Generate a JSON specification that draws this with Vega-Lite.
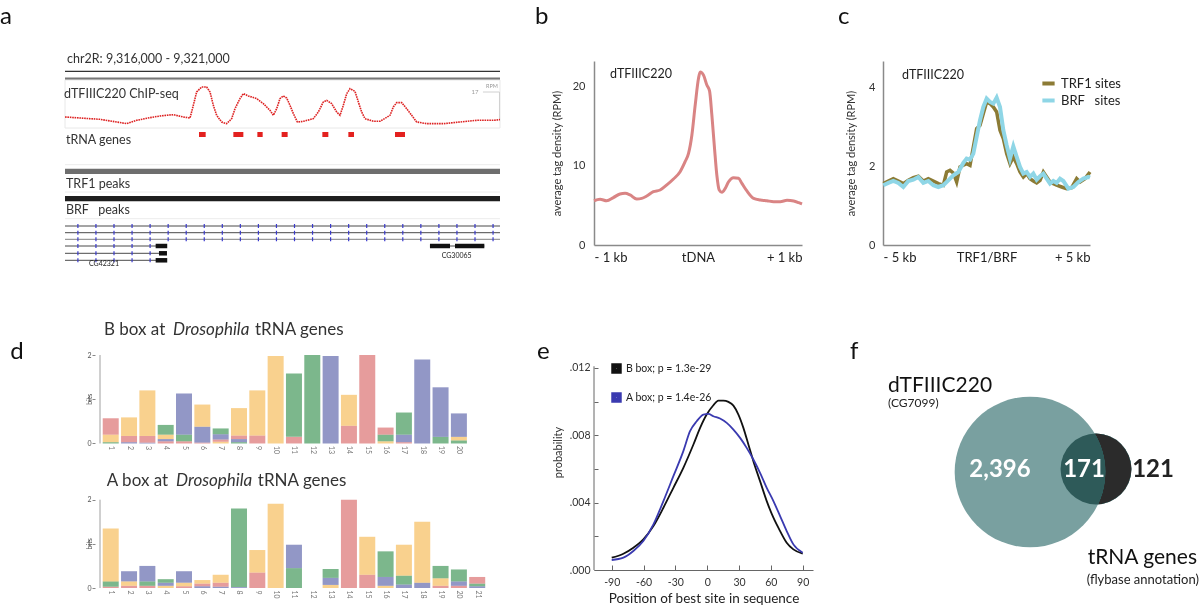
{
"$schema": "https://vega.github.io/schema/vega-lite/v6.json",
"background": "white",
"padding": {"top": 5, "left": 0, "right": 0, "bottom": 0},
"autosize": {"type": "pad"},
"config": {"font": "Lato", "view": {"stroke": null}, "axis": {"grid": false}},
"columns": 3,
"spacing": {"row": 110, "column": 70},
"bounds": "flush",
"align": "each",
"resolve": {"scale": {"color": "independent"}, "legend": {"color": "independent"}},
"datasets": {
"a_profile": [
{"bp":9316000,"rpm":5.19},{"bp":9316172,"rpm":4.72},{"bp":9316402,"rpm":4.09},{"bp":9316594,"rpm":2.83},{"bp":9316709,"rpm":2.05},{"bp":9316824,"rpm":3.62},{"bp":9316977,"rpm":4.88},{"bp":9317092,"rpm":5.67},{"bp":9317245,"rpm":6.29},{"bp":9317360,"rpm":5.19},{"bp":9317437,"rpm":4.72},{"bp":9317475,"rpm":10.7},{"bp":9317513,"rpm":17.0},{"bp":9317571,"rpm":19.36},{"bp":9317628,"rpm":19.36},{"bp":9317667,"rpm":17.0},{"bp":9317705,"rpm":10.7},{"bp":9317743,"rpm":5.98},{"bp":9317801,"rpm":2.83},{"bp":9317858,"rpm":2.05},{"bp":9317916,"rpm":4.41},{"bp":9317954,"rpm":9.13},{"bp":9318011,"rpm":13.85},{"bp":9318050,"rpm":16.21},{"bp":9318107,"rpm":15.11},{"bp":9318203,"rpm":13.85},{"bp":9318280,"rpm":11.49},{"bp":9318356,"rpm":8.34},{"bp":9318395,"rpm":5.98},{"bp":9318433,"rpm":9.13},{"bp":9318471,"rpm":13.85},{"bp":9318510,"rpm":15.11},{"bp":9318548,"rpm":14.16},{"bp":9318586,"rpm":10.7},{"bp":9318625,"rpm":6.77},{"bp":9318671,"rpm":2.83},{"bp":9318740,"rpm":3.15},{"bp":9318854,"rpm":4.41},{"bp":9318912,"rpm":7.55},{"bp":9318969,"rpm":12.27},{"bp":9319008,"rpm":13.06},{"bp":9319065,"rpm":11.49},{"bp":9319123,"rpm":7.55},{"bp":9319161,"rpm":5.98},{"bp":9319199,"rpm":10.7},{"bp":9319238,"rpm":16.21},{"bp":9319276,"rpm":18.57},{"bp":9319333,"rpm":17.31},{"bp":9319372,"rpm":12.27},{"bp":9319410,"rpm":7.55},{"bp":9319448,"rpm":4.41},{"bp":9319544,"rpm":3.15},{"bp":9319621,"rpm":3.15},{"bp":9319736,"rpm":5.98},{"bp":9319774,"rpm":9.92},{"bp":9319812,"rpm":11.96},{"bp":9319870,"rpm":11.96},{"bp":9319927,"rpm":9.13},{"bp":9319985,"rpm":5.98},{"bp":9320042,"rpm":2.83},{"bp":9320157,"rpm":2.05},{"bp":9320349,"rpm":2.05},{"bp":9320540,"rpm":2.83},{"bp":9320732,"rpm":3.62},{"bp":9320923,"rpm":3.62},{"bp":9321000,"rpm":3.93}
],
"a_trna": [
{"start":9317540,"end":9317617},{"start":9317935,"end":9318050},{"start":9318211,"end":9318272},{"start":9318490,"end":9318559},{"start":9318958,"end":9319027},{"start":9319257,"end":9319322},{"start":9319793,"end":9319908}
],
"b_profile": [
{"pos":-1000,"rpm":5.6},{"pos":-942,"rpm":5.8},{"pos":-878,"rpm":5.6},{"pos":-814,"rpm":6.0},{"pos":-750,"rpm":6.46},{"pos":-701,"rpm":6.54},{"pos":-653,"rpm":6.33},{"pos":-589,"rpm":5.82},{"pos":-541,"rpm":5.9},{"pos":-493,"rpm":6.2},{"pos":-429,"rpm":6.75},{"pos":-364,"rpm":6.96},{"pos":-300,"rpm":7.6},{"pos":-236,"rpm":8.35},{"pos":-172,"rpm":9.28},{"pos":-124,"rpm":10.55},{"pos":-91,"rpm":11.6},{"pos":-59,"rpm":13.9},{"pos":-27,"rpm":17.7},{"pos":5,"rpm":21.1},{"pos":21,"rpm":21.9},{"pos":53,"rpm":21.5},{"pos":85,"rpm":20.25},{"pos":111,"rpm":19.5},{"pos":133,"rpm":16.5},{"pos":159,"rpm":12.2},{"pos":181,"rpm":8.86},{"pos":204,"rpm":6.96},{"pos":230,"rpm":6.67},{"pos":262,"rpm":7.17},{"pos":294,"rpm":8.0},{"pos":342,"rpm":8.52},{"pos":390,"rpm":8.44},{"pos":422,"rpm":7.8},{"pos":470,"rpm":6.84},{"pos":535,"rpm":5.9},{"pos":599,"rpm":5.7},{"pos":663,"rpm":5.6},{"pos":727,"rpm":5.49},{"pos":791,"rpm":5.49},{"pos":856,"rpm":5.65},{"pos":920,"rpm":5.57},{"pos":968,"rpm":5.36},{"pos":1000,"rpm":5.19}
],
"c_profile": [
{"series":"TRF1 sites","pos":-4984,"rpm":1.56},{"series":"TRF1 sites","pos":-4742,"rpm":1.628},{"series":"TRF1 sites","pos":-4501,"rpm":1.688},{"series":"TRF1 sites","pos":-4259,"rpm":1.628},{"series":"TRF1 sites","pos":-4018,"rpm":1.56},{"series":"TRF1 sites","pos":-3776,"rpm":1.645},{"series":"TRF1 sites","pos":-3535,"rpm":1.713},{"series":"TRF1 sites","pos":-3293,"rpm":1.747},{"series":"TRF1 sites","pos":-3052,"rpm":1.628},{"series":"TRF1 sites","pos":-2810,"rpm":1.688},{"series":"TRF1 sites","pos":-2569,"rpm":1.628},{"series":"TRF1 sites","pos":-2327,"rpm":1.56},{"series":"TRF1 sites","pos":-2085,"rpm":1.52},{"series":"TRF1 sites","pos":-1924,"rpm":1.857},{"series":"TRF1 sites","pos":-1763,"rpm":1.9},{"series":"TRF1 sites","pos":-1602,"rpm":1.832},{"series":"TRF1 sites","pos":-1441,"rpm":1.603},{"series":"TRF1 sites","pos":-1280,"rpm":1.985},{"series":"TRF1 sites","pos":-1119,"rpm":2.027},{"series":"TRF1 sites","pos":-958,"rpm":2.07},{"series":"TRF1 sites","pos":-797,"rpm":2.027},{"series":"TRF1 sites","pos":-636,"rpm":2.494},{"series":"TRF1 sites","pos":-475,"rpm":2.961},{"series":"TRF1 sites","pos":-314,"rpm":3.045},{"series":"TRF1 sites","pos":-153,"rpm":3.342},{"series":"TRF1 sites","pos":8,"rpm":3.639},{"series":"TRF1 sites","pos":168,"rpm":3.596},{"series":"TRF1 sites","pos":330,"rpm":3.511},{"series":"TRF1 sites","pos":491,"rpm":3.384},{"series":"TRF1 sites","pos":652,"rpm":2.918},{"series":"TRF1 sites","pos":813,"rpm":2.706},{"series":"TRF1 sites","pos":974,"rpm":2.324},{"series":"TRF1 sites","pos":1135,"rpm":2.07},{"series":"TRF1 sites","pos":1296,"rpm":2.239},{"series":"TRF1 sites","pos":1458,"rpm":2.07},{"series":"TRF1 sites","pos":1619,"rpm":1.857},{"series":"TRF1 sites","pos":1780,"rpm":1.73},{"series":"TRF1 sites","pos":1941,"rpm":1.815},{"series":"TRF1 sites","pos":2102,"rpm":1.688},{"series":"TRF1 sites","pos":2263,"rpm":1.628},{"series":"TRF1 sites","pos":2424,"rpm":1.578},{"series":"TRF1 sites","pos":2585,"rpm":1.645},{"series":"TRF1 sites","pos":2746,"rpm":1.857},{"series":"TRF1 sites","pos":2907,"rpm":1.73},{"series":"TRF1 sites","pos":3068,"rpm":1.603},{"series":"TRF1 sites","pos":3229,"rpm":1.56},{"series":"TRF1 sites","pos":3390,"rpm":1.52},{"series":"TRF1 sites","pos":3632,"rpm":1.475},{"series":"TRF1 sites","pos":3873,"rpm":1.433},{"series":"TRF1 sites","pos":4115,"rpm":1.458},{"series":"TRF1 sites","pos":4356,"rpm":1.688},{"series":"TRF1 sites","pos":4517,"rpm":1.603},{"series":"TRF1 sites","pos":4759,"rpm":1.688},{"series":"TRF1 sites","pos":5000,"rpm":1.857},
{"series":"BRF   sites","pos":-4984,"rpm":1.52},{"series":"BRF   sites","pos":-4742,"rpm":1.578},{"series":"BRF   sites","pos":-4501,"rpm":1.628},{"series":"BRF   sites","pos":-4259,"rpm":1.578},{"series":"BRF   sites","pos":-4018,"rpm":1.475},{"series":"BRF   sites","pos":-3776,"rpm":1.628},{"series":"BRF   sites","pos":-3535,"rpm":1.662},{"series":"BRF   sites","pos":-3293,"rpm":1.73},{"series":"BRF   sites","pos":-3052,"rpm":1.578},{"series":"BRF   sites","pos":-2810,"rpm":1.628},{"series":"BRF   sites","pos":-2569,"rpm":1.52},{"series":"BRF   sites","pos":-2327,"rpm":1.475},{"series":"BRF   sites","pos":-2085,"rpm":1.52},{"series":"BRF   sites","pos":-1844,"rpm":1.645},{"series":"BRF   sites","pos":-1602,"rpm":1.772},{"series":"BRF   sites","pos":-1361,"rpm":1.857},{"series":"BRF   sites","pos":-1119,"rpm":2.087},{"series":"BRF   sites","pos":-958,"rpm":2.197},{"series":"BRF   sites","pos":-797,"rpm":2.172},{"series":"BRF   sites","pos":-636,"rpm":2.324},{"series":"BRF   sites","pos":-475,"rpm":2.748},{"series":"BRF   sites","pos":-314,"rpm":3.172},{"series":"BRF   sites","pos":-153,"rpm":3.511},{"series":"BRF   sites","pos":8,"rpm":3.724},{"series":"BRF   sites","pos":168,"rpm":3.639},{"series":"BRF   sites","pos":330,"rpm":3.596},{"series":"BRF   sites","pos":491,"rpm":3.749},{"series":"BRF   sites","pos":652,"rpm":3.511},{"series":"BRF   sites","pos":813,"rpm":2.918},{"series":"BRF   sites","pos":974,"rpm":2.536},{"series":"BRF   sites","pos":1135,"rpm":2.197},{"series":"BRF   sites","pos":1296,"rpm":2.511},{"series":"BRF   sites","pos":1458,"rpm":2.239},{"series":"BRF   sites","pos":1619,"rpm":1.985},{"series":"BRF   sites","pos":1780,"rpm":1.815},{"series":"BRF   sites","pos":1941,"rpm":1.857},{"series":"BRF   sites","pos":2102,"rpm":1.73},{"series":"BRF   sites","pos":2263,"rpm":1.815},{"series":"BRF   sites","pos":2424,"rpm":1.662},{"series":"BRF   sites","pos":2585,"rpm":1.747},{"series":"BRF   sites","pos":2746,"rpm":1.815},{"series":"BRF   sites","pos":2907,"rpm":1.688},{"series":"BRF   sites","pos":3068,"rpm":1.56},{"series":"BRF   sites","pos":3229,"rpm":1.628},{"series":"BRF   sites","pos":3390,"rpm":1.578},{"series":"BRF   sites","pos":3551,"rpm":1.688},{"series":"BRF   sites","pos":3712,"rpm":1.628},{"series":"BRF   sites","pos":3954,"rpm":1.433},{"series":"BRF   sites","pos":4195,"rpm":1.475},{"series":"BRF   sites","pos":4437,"rpm":1.603},{"series":"BRF   sites","pos":4678,"rpm":1.688},{"series":"BRF   sites","pos":4920,"rpm":1.73},{"series":"BRF   sites","pos":5000,"rpm":1.713}
],
"logo": [
{"box":"B","pos":1,"nt":"T","bits":0.03},{"box":"B","pos":1,"nt":"G","bits":0.17},{"box":"B","pos":1,"nt":"A","bits":0.37},
{"box":"B","pos":2,"nt":"C","bits":0.03},{"box":"B","pos":2,"nt":"A","bits":0.14},{"box":"B","pos":2,"nt":"G","bits":0.42},
{"box":"B","pos":3,"nt":"C","bits":0.02},{"box":"B","pos":3,"nt":"A","bits":0.15},{"box":"B","pos":3,"nt":"G","bits":1.03},
{"box":"B","pos":4,"nt":"A","bits":0.05},{"box":"B","pos":4,"nt":"C","bits":0.05},{"box":"B","pos":4,"nt":"G","bits":0.1},{"box":"B","pos":4,"nt":"T","bits":0.22},
{"box":"B","pos":5,"nt":"A","bits":0.05},{"box":"B","pos":5,"nt":"T","bits":0.15},{"box":"B","pos":5,"nt":"C","bits":0.93},
{"box":"B","pos":6,"nt":"A","bits":0.02},{"box":"B","pos":6,"nt":"C","bits":0.36},{"box":"B","pos":6,"nt":"G","bits":0.5},
{"box":"B","pos":7,"nt":"G","bits":0.04},{"box":"B","pos":7,"nt":"A","bits":0.05},{"box":"B","pos":7,"nt":"C","bits":0.12},{"box":"B","pos":7,"nt":"T","bits":0.13},
{"box":"B","pos":8,"nt":"T","bits":0.03},{"box":"B","pos":8,"nt":"C","bits":0.07},{"box":"B","pos":8,"nt":"A","bits":0.08},{"box":"B","pos":8,"nt":"G","bits":0.62},
{"box":"B","pos":9,"nt":"A","bits":0.18},{"box":"B","pos":9,"nt":"G","bits":1.02},
{"box":"B","pos":10,"nt":"G","bits":1.98},
{"box":"B","pos":11,"nt":"A","bits":0.15},{"box":"B","pos":11,"nt":"T","bits":1.43},
{"box":"B","pos":12,"nt":"T","bits":2.0},
{"box":"B","pos":13,"nt":"C","bits":1.98},
{"box":"B","pos":14,"nt":"A","bits":0.4},{"box":"B","pos":14,"nt":"G","bits":0.7},
{"box":"B","pos":15,"nt":"A","bits":2.0},
{"box":"B","pos":16,"nt":"G","bits":0.05},{"box":"B","pos":16,"nt":"T","bits":0.15},{"box":"B","pos":16,"nt":"A","bits":0.16},
{"box":"B","pos":17,"nt":"A","bits":0.03},{"box":"B","pos":17,"nt":"C","bits":0.17},{"box":"B","pos":17,"nt":"T","bits":0.5},
{"box":"B","pos":18,"nt":"C","bits":1.9},
{"box":"B","pos":19,"nt":"T","bits":0.15},{"box":"B","pos":19,"nt":"C","bits":1.12},
{"box":"B","pos":20,"nt":"T","bits":0.07},{"box":"B","pos":20,"nt":"G","bits":0.08},{"box":"B","pos":20,"nt":"C","bits":0.53},
{"box":"A","pos":1,"nt":"A","bits":0.03},{"box":"A","pos":1,"nt":"T","bits":0.12},{"box":"A","pos":1,"nt":"G","bits":1.2},
{"box":"A","pos":2,"nt":"A","bits":0.05},{"box":"A","pos":2,"nt":"G","bits":0.1},{"box":"A","pos":2,"nt":"C","bits":0.23},
{"box":"A","pos":3,"nt":"A","bits":0.05},{"box":"A","pos":3,"nt":"T","bits":0.1},{"box":"A","pos":3,"nt":"C","bits":0.35},
{"box":"A","pos":4,"nt":"G","bits":0.05},{"box":"A","pos":4,"nt":"C","bits":0.07},{"box":"A","pos":4,"nt":"T","bits":0.08},
{"box":"A","pos":5,"nt":"A","bits":0.04},{"box":"A","pos":5,"nt":"G","bits":0.08},{"box":"A","pos":5,"nt":"C","bits":0.26},
{"box":"A","pos":6,"nt":"C","bits":0.04},{"box":"A","pos":6,"nt":"A","bits":0.06},{"box":"A","pos":6,"nt":"G","bits":0.08},
{"box":"A","pos":7,"nt":"C","bits":0.03},{"box":"A","pos":7,"nt":"A","bits":0.09},{"box":"A","pos":7,"nt":"G","bits":0.18},
{"box":"A","pos":8,"nt":"C","bits":0.02},{"box":"A","pos":8,"nt":"T","bits":1.78},
{"box":"A","pos":9,"nt":"A","bits":0.35},{"box":"A","pos":9,"nt":"G","bits":0.51},
{"box":"A","pos":10,"nt":"G","bits":1.91},
{"box":"A","pos":11,"nt":"T","bits":0.45},{"box":"A","pos":11,"nt":"C","bits":0.53},
{"box":"A","pos":13,"nt":"G","bits":0.07},{"box":"A","pos":13,"nt":"C","bits":0.16},{"box":"A","pos":13,"nt":"T","bits":0.2},
{"box":"A","pos":14,"nt":"A","bits":2.0},
{"box":"A","pos":15,"nt":"A","bits":0.3},{"box":"A","pos":15,"nt":"G","bits":0.86},
{"box":"A","pos":16,"nt":"G","bits":0.05},{"box":"A","pos":16,"nt":"C","bits":0.2},{"box":"A","pos":16,"nt":"T","bits":0.58},
{"box":"A","pos":17,"nt":"C","bits":0.08},{"box":"A","pos":17,"nt":"T","bits":0.2},{"box":"A","pos":17,"nt":"G","bits":0.7},
{"box":"A","pos":18,"nt":"C","bits":0.12},{"box":"A","pos":18,"nt":"G","bits":1.38},
{"box":"A","pos":19,"nt":"A","bits":0.05},{"box":"A","pos":19,"nt":"G","bits":0.17},{"box":"A","pos":19,"nt":"T","bits":0.28},
{"box":"A","pos":20,"nt":"A","bits":0.05},{"box":"A","pos":20,"nt":"C","bits":0.1},{"box":"A","pos":20,"nt":"T","bits":0.27},
{"box":"A","pos":21,"nt":"C","bits":0.04},{"box":"A","pos":21,"nt":"T","bits":0.06},{"box":"A","pos":21,"nt":"A","bits":0.15}
],
"e_curves": [
{"series":"B box; p = 1.3e-29","pos":-90,"prob":0.000731},{"series":"B box; p = 1.3e-29","pos":-79,"prob":0.000969},{"series":"B box; p = 1.3e-29","pos":-69.6,"prob":0.001325},{"series":"B box; p = 1.3e-29","pos":-60.2,"prob":0.001819},{"series":"B box; p = 1.3e-29","pos":-50.7,"prob":0.00261},{"series":"B box; p = 1.3e-29","pos":-41.3,"prob":0.003697},{"series":"B box; p = 1.3e-29","pos":-31.9,"prob":0.004883},{"series":"B box; p = 1.3e-29","pos":-22.5,"prob":0.006069},{"series":"B box; p = 1.3e-29","pos":-13,"prob":0.007453},{"series":"B box; p = 1.3e-29","pos":-6.7,"prob":0.008442},{"series":"B box; p = 1.3e-29","pos":-0.5,"prob":0.009232},{"series":"B box; p = 1.3e-29","pos":5.8,"prob":0.009786},{"series":"B box; p = 1.3e-29","pos":10.5,"prob":0.010063},{"series":"B box; p = 1.3e-29","pos":15.2,"prob":0.010063},{"series":"B box; p = 1.3e-29","pos":20,"prob":0.009984},{"series":"B box; p = 1.3e-29","pos":24.7,"prob":0.009766},{"series":"B box; p = 1.3e-29","pos":29.4,"prob":0.009232},{"series":"B box; p = 1.3e-29","pos":34.1,"prob":0.008442},{"series":"B box; p = 1.3e-29","pos":38.8,"prob":0.007453},{"series":"B box; p = 1.3e-29","pos":43.5,"prob":0.006465},{"series":"B box; p = 1.3e-29","pos":49.8,"prob":0.005278},{"series":"B box; p = 1.3e-29","pos":56.1,"prob":0.004092},{"series":"B box; p = 1.3e-29","pos":62.4,"prob":0.003104},{"series":"B box; p = 1.3e-29","pos":68.7,"prob":0.002313},{"series":"B box; p = 1.3e-29","pos":74.9,"prob":0.001621},{"series":"B box; p = 1.3e-29","pos":81.2,"prob":0.001226},{"series":"B box; p = 1.3e-29","pos":90,"prob":0.000969},
{"series":"A box; p = 1.4e-26","pos":-90,"prob":0.000593},{"series":"A box; p = 1.4e-26","pos":-79,"prob":0.000731},{"series":"A box; p = 1.4e-26","pos":-69.6,"prob":0.001127},{"series":"A box; p = 1.4e-26","pos":-60.2,"prob":0.00172},{"series":"A box; p = 1.4e-26","pos":-50.7,"prob":0.002708},{"series":"A box; p = 1.4e-26","pos":-41.3,"prob":0.004092},{"series":"A box; p = 1.4e-26","pos":-31.9,"prob":0.005575},{"series":"A box; p = 1.4e-26","pos":-22.5,"prob":0.007058},{"series":"A box; p = 1.4e-26","pos":-16.2,"prob":0.008244},{"series":"A box; p = 1.4e-26","pos":-9.9,"prob":0.008837},{"series":"A box; p = 1.4e-26","pos":-3.6,"prob":0.009232},{"series":"A box; p = 1.4e-26","pos":1.1,"prob":0.009272},{"series":"A box; p = 1.4e-26","pos":5.8,"prob":0.009133},{"series":"A box; p = 1.4e-26","pos":12.1,"prob":0.008995},{"series":"A box; p = 1.4e-26","pos":18.4,"prob":0.008738},{"series":"A box; p = 1.4e-26","pos":24.7,"prob":0.008343},{"series":"A box; p = 1.4e-26","pos":31,"prob":0.007848},{"series":"A box; p = 1.4e-26","pos":37.2,"prob":0.007255},{"series":"A box; p = 1.4e-26","pos":43.5,"prob":0.006563},{"series":"A box; p = 1.4e-26","pos":49.8,"prob":0.005773},{"series":"A box; p = 1.4e-26","pos":56.1,"prob":0.004883},{"series":"A box; p = 1.4e-26","pos":62.4,"prob":0.004092},{"series":"A box; p = 1.4e-26","pos":68.7,"prob":0.003203},{"series":"A box; p = 1.4e-26","pos":74.9,"prob":0.002313},{"series":"A box; p = 1.4e-26","pos":81.2,"prob":0.001522},{"series":"A box; p = 1.4e-26","pos":90,"prob":0.001028}
]
},
"concat": [
{
"width": 429, "height": 184,
"resolve": {"scale": {"y": "independent"}},
"layer": [
{"layer": [
{"data": {"values": [{}]}, "mark": {"type": "text", "align": "left", "baseline": "alphabetic", "fontSize": 24, "color": "#111"},
 "encoding": {"x": {"datum": 9315253, "type": "quantitative", "scale": {"domain": [9316344.8, 9321275.9], "nice": false, "zero": false}, "axis": null},
  "y": {"datum": -37, "type": "quantitative", "scale": {"domain": [0, 184], "reverse": true, "nice": false, "zero": false}, "axis": null},
  "text": {"value": "a"}}},
{"data": {"values": [{}]}, "mark": {"type": "text", "align": "left", "baseline": "middle", "fontSize": 12.5, "color": "#333"},
 "encoding": {"x": {"datum": 9316023, "type": "quantitative"}, "y": {"datum": -2, "type": "quantitative"}, "text": {"value": "chr2R: 9,316,000 - 9,321,000"}}},
{"data": {"values": [{}]}, "mark": {"type": "rule", "color": "#333", "strokeWidth": 1.2},
 "encoding": {"x": {"datum": 9316000, "type": "quantitative"}, "x2": {"datum": 9321000}, "y": {"datum": 10.3, "type": "quantitative"}}},
{"data": {"values": [{}]}, "mark": {"type": "rule", "color": "#777", "strokeWidth": 2.5},
 "encoding": {"x": {"datum": 9316000, "type": "quantitative"}, "x2": {"datum": 9321000}, "y": {"datum": 17.7, "type": "quantitative"}}},
{"data": {"values": [{}]}, "mark": {"type": "rect", "fillOpacity": 0, "stroke": "#e8e8e8", "strokeWidth": 1},
 "encoding": {"x": {"datum": 9316000, "type": "quantitative"}, "x2": {"datum": 9321000}, "y": {"datum": 19, "type": "quantitative"}, "y2": {"datum": 67}}},
{"data": {"values": [{}]}, "mark": {"type": "rule", "color": "#d0d0d0", "strokeWidth": 1},
 "encoding": {"x": {"datum": 9320994, "type": "quantitative"}, "y": {"datum": 31, "type": "quantitative"}, "y2": {"datum": 59}}},
{"data": {"values": [{}]}, "mark": {"type": "rule", "color": "#d0d0d0", "strokeWidth": 1},
 "encoding": {"x": {"datum": 9320804, "type": "quantitative"}, "x2": {"datum": 9320994}, "y": {"datum": 31, "type": "quantitative"}}},
{"data": {"values": [{}]}, "mark": {"type": "text", "align": "center", "baseline": "middle", "fontSize": 6, "color": "#999"},
 "encoding": {"x": {"datum": 9320713, "type": "quantitative"}, "y": {"datum": 31, "type": "quantitative"}, "text": {"value": "17"}}},
{"data": {"values": [{}]}, "mark": {"type": "text", "align": "center", "baseline": "middle", "fontSize": 5.5, "color": "#999"},
 "encoding": {"x": {"datum": 9320908, "type": "quantitative"}, "y": {"datum": 25, "type": "quantitative"}, "text": {"value": "RPM"}}},
{"data": {"values": [{}]}, "mark": {"type": "text", "align": "left", "baseline": "middle", "fontSize": 12.5, "color": "#333"},
 "encoding": {"x": {"datum": 9315989, "type": "quantitative"}, "y": {"datum": 33.3, "type": "quantitative"}, "text": {"value": "dTFIIIC220 ChIP-seq"}}},
{"data": {"name": "a_trna"}, "mark": {"type": "rect", "color": "#e3211f"},
 "encoding": {"x": {"field": "start", "type": "quantitative"}, "x2": {"field": "end"}, "y": {"datum": 71, "type": "quantitative"}, "y2": {"datum": 76}}},
{"data": {"values": [{}]}, "mark": {"type": "text", "align": "left", "baseline": "middle", "fontSize": 12.5, "color": "#333"},
 "encoding": {"x": {"datum": 9316011, "type": "quantitative"}, "y": {"datum": 79.3, "type": "quantitative"}, "text": {"value": "tRNA genes"}}},
{"data": {"values": [{"track": 103.7}, {"track": 131}, {"track": 157.7}]}, "mark": {"type": "rule", "color": "#ececec", "strokeWidth": 1},
 "encoding": {"x": {"datum": 9316000, "type": "quantitative"}, "x2": {"datum": 9321000}, "y": {"field": "track", "type": "quantitative"}}},
{"data": {"values": [{}]}, "mark": {"type": "rect", "color": "#6e6e6e"},
 "encoding": {"x": {"datum": 9316000, "type": "quantitative"}, "x2": {"datum": 9321000}, "y": {"datum": 107.7, "type": "quantitative"}, "y2": {"datum": 113}}},
{"data": {"values": [{}]}, "mark": {"type": "text", "align": "left", "baseline": "middle", "fontSize": 12.5, "color": "#333"},
 "encoding": {"x": {"datum": 9316011, "type": "quantitative"}, "y": {"datum": 122.7, "type": "quantitative"}, "text": {"value": "TRF1 peaks"}}},
{"data": {"values": [{}]}, "mark": {"type": "rect", "color": "#1e1e1e"},
 "encoding": {"x": {"datum": 9316000, "type": "quantitative"}, "x2": {"datum": 9321000}, "y": {"datum": 135, "type": "quantitative"}, "y2": {"datum": 140.3}}},
{"data": {"values": [{}]}, "mark": {"type": "text", "align": "left", "baseline": "middle", "fontSize": 12.5, "color": "#333"},
 "encoding": {"x": {"datum": 9316011, "type": "quantitative"}, "y": {"datum": 149.3, "type": "quantitative"}, "text": {"value": "BRF\u00a0\u00a0\u00a0peaks"}}},
{"data": {"values": [{"start": 9316000, "end": 9321000, "track": 165}, {"start": 9316000, "end": 9321000, "track": 171.7}, {"start": 9316000, "end": 9317046, "track": 185}, {"start": 9316000, "end": 9317080, "track": 192.3}, {"start": 9316000, "end": 9317046, "track": 199.3}, {"start": 9320195, "end": 9320820, "track": 185}]},
 "mark": {"type": "rule", "color": "#4a4a4a", "strokeWidth": 1},
 "encoding": {"x": {"field": "start", "type": "quantitative"}, "x2": {"field": "end"}, "y": {"field": "track", "type": "quantitative"}}},
{"data": {"values": [{"start": 9316000, "end": 9321000, "track": 178.3}]},
 "mark": {"type": "rule", "color": "#9a9a9a", "strokeWidth": 1.2},
 "encoding": {"x": {"field": "start", "type": "quantitative"}, "x2": {"field": "end"}, "y": {"field": "track", "type": "quantitative"}}},
{"data": {"values": [{"start": 9316000, "end": 9321000, "track": 165}, {"start": 9316000, "end": 9321000, "track": 171.7}, {"start": 9316000, "end": 9321000, "track": 178.3}, {"start": 9316000, "end": 9317046, "track": 185}, {"start": 9316000, "end": 9317080, "track": 192.3}, {"start": 9316000, "end": 9317046, "track": 199.3}]},
 "mark": {"type": "rule", "color": "#3a3acc", "strokeWidth": 4, "strokeDash": [1.2, 16.85], "strokeDashOffset": 5.75},
 "encoding": {"x": {"field": "start", "type": "quantitative"}, "x2": {"field": "end"}, "y": {"field": "track", "type": "quantitative"}}},
{"data": {"values": [{"start": 9317042, "end": 9317175, "track": 185}, {"start": 9317080, "end": 9317172, "track": 192.3}, {"start": 9317042, "end": 9317175, "track": 199.3}, {"start": 9320195, "end": 9320425, "track": 185}, {"start": 9320483, "end": 9320820, "track": 185}]},
 "mark": {"type": "rule", "color": "#111", "strokeWidth": 4.5},
 "encoding": {"x": {"field": "start", "type": "quantitative"}, "x2": {"field": "end"}, "y": {"field": "track", "type": "quantitative"}}},
{"data": {"values": [{"gene": "CG42321", "mid": 9316448, "track": 203}, {"gene": "CG30065", "mid": 9320502, "track": 195}]},
 "mark": {"type": "text", "align": "center", "baseline": "middle", "fontSize": 7, "color": "#222"},
 "encoding": {"x": {"field": "mid", "type": "quantitative"}, "y": {"field": "track", "type": "quantitative"}, "text": {"field": "gene"}}}
]},
{"data": {"name": "a_profile"}, "mark": {"type": "line", "color": "#dd2222", "strokeWidth": 1.6, "strokeDash": [1.6, 0.8]},
 "encoding": {"x": {"field": "bp", "type": "quantitative"},
  "y": {"field": "rpm", "type": "quantitative", "scale": {"domain": [-55.25, 31.63], "nice": false, "zero": false}, "axis": null}}}
]
},
{
"width": 208, "height": 184,
"layer": [
{"data": {"name": "b_profile"}, "mark": {"type": "line", "color": "#d98484", "strokeWidth": 3, "interpolate": "monotone"},
 "encoding": {
  "x": {"field": "pos", "type": "quantitative", "scale": {"domain": [-1000, 1000], "nice": false, "zero": false},
   "axis": {"values": [-1000, 0, 1000], "tickCount": 50, "labelExpr": "datum.value < 0 ? '- 1 kb' : (datum.value > 0 ? '+ 1 kb' : 'tDNA')", "labelFlush": true, "labelOverlap": false, "ticks": false, "domainColor": "#8a8a8a", "domainWidth": 1.5, "labelFontSize": 13, "labelColor": "#222", "labelPadding": 6, "title": null}},
  "y": {"field": "rpm", "type": "quantitative", "scale": {"domain": [0, 23.29], "nice": false},
   "axis": {"values": [0, 10, 20], "ticks": false, "domainColor": "#8a8a8a", "domainWidth": 1.5, "labelFontSize": 11, "labelColor": "#333", "labelPadding": 9, "title": "average tag density (RPM)", "titleFontSize": 11, "titleFontWeight": "normal", "titleColor": "#333", "titlePadding": 10}}}},
{"data": {"values": [{}]}, "mark": {"type": "text", "align": "left", "baseline": "middle", "fontSize": 12.5, "color": "#222"},
 "encoding": {"x": {"datum": -846, "type": "quantitative"}, "y": {"datum": 21.7, "type": "quantitative"}, "text": {"value": "dTFIIIC220"}}},
{"data": {"values": [{}]}, "mark": {"type": "text", "align": "left", "baseline": "alphabetic", "fontSize": 24, "color": "#111"},
 "encoding": {"x": {"datum": -1567, "type": "quantitative"}, "y": {"datum": 27.97, "type": "quantitative"}, "text": {"value": "b"}}}
]
},
{
"width": 207, "height": 184,
"layer": [
{"data": {"name": "c_profile"}, "transform": [{"filter": "datum.series === 'TRF1 sites'"}], "mark": {"type": "line", "strokeWidth": 3.5, "interpolate": "linear"},
 "encoding": {
  "x": {"field": "pos", "type": "quantitative", "scale": {"domain": [-5000, 5000], "nice": false, "zero": false},
   "axis": {"values": [-5000, 0, 5000], "tickCount": 50, "labelExpr": "datum.value < 0 ? '- 5 kb' : (datum.value > 0 ? '+ 5 kb' : 'TRF1/BRF')", "labelFlush": true, "labelOverlap": false, "ticks": false, "domainColor": "#8a8a8a", "domainWidth": 1.5, "labelFontSize": 13, "labelColor": "#222", "labelPadding": 6, "title": null}},
  "y": {"field": "rpm", "type": "quantitative", "scale": {"domain": [0, 4.68], "nice": false},
   "axis": {"values": [0, 2, 4], "ticks": false, "domainColor": "#8a8a8a", "domainWidth": 1.5, "labelFontSize": 11, "labelColor": "#333", "labelPadding": 8, "title": "average tag density (RPM)", "titleFontSize": 11, "titleFontWeight": "normal", "titleColor": "#333", "titlePadding": 12}},
  "color": {"field": "series", "type": "nominal", "scale": {"domain": ["TRF1 sites", "BRF   sites"], "range": ["#8c7b35", "#8fd6e6"]},
   "legend": {"orient": "none", "legendX": 157, "legendY": 14, "title": null, "symbolType": "stroke", "symbolStrokeWidth": 4, "symbolSize": 150, "labelFontSize": 13, "labelColor": "#222", "rowPadding": 0, "labelOffset": 4, "labelExpr": "replace(datum.label, '   ', '\u00a0\u00a0\u00a0')"}}}},
{"data": {"name": "c_profile"}, "transform": [{"filter": "datum.series !== 'TRF1 sites'"}], "mark": {"type": "line", "strokeWidth": 4, "interpolate": "linear"},
 "encoding": {"x": {"field": "pos", "type": "quantitative"}, "y": {"field": "rpm", "type": "quantitative"}, "color": {"field": "series", "type": "nominal"}}},
{"data": {"values": [{}]}, "mark": {"type": "text", "align": "left", "baseline": "middle", "fontSize": 12.5, "color": "#222"},
 "encoding": {"x": {"datum": -4082, "type": "quantitative"}, "y": {"datum": 4.33, "type": "quantitative"}, "text": {"value": "dTFIIIC220"}}},
{"data": {"values": [{}]}, "mark": {"type": "text", "align": "left", "baseline": "alphabetic", "fontSize": 24, "color": "#111"},
 "encoding": {"x": {"datum": -7174, "type": "quantitative"}, "y": {"datum": 5.62, "type": "quantitative"}, "text": {"value": "c"}}}
]
},
{
"width": 395, "height": 233,
"resolve": {"scale": {"x": "independent", "y": "independent"}},
"layer": [
{"layer": [
{"data": {"name": "logo"}, "transform": [{"filter": "datum.box === 'B'"}], "mark": {"type": "bar", "width": 16, "fillOpacity": 0.62},
 "encoding": {
  "x": {"field": "pos", "type": "quantitative", "scale": {"domain": [0.415, 21.425], "nice": false, "zero": false},
   "axis": {"orient": "bottom", "offset": -144.5, "values": [1,2,3,4,5,6,7,8,9,10,11,12,13,14,15,16,17,18,19,20], "tickCount": 50, "labelExpr": "'' + datum.value", "labelOverlap": false, "labelAngle": 90, "ticks": false, "domain": false, "labelFontSize": 7, "labelColor": "#777", "labelPadding": 2, "title": null}},
  "y": {"field": "bits", "type": "quantitative", "stack": "zero", "scale": {"domain": [-3.266, 2], "nice": false, "zero": false},
   "axis": {"orient": "left", "values": [0, 1, 2], "domain": false, "tickSize": 3, "tickColor": "#888", "labelFontSize": 7, "labelColor": "#555", "labelPadding": 1, "title": null}},
  "color": {"field": "nt", "type": "nominal", "scale": {"domain": ["A", "C", "G", "T"], "range": ["#d75f5f", "#4f57a3", "#f6b449", "#2b8a45"]}, "legend": null},
  "order": {"field": "bits", "type": "quantitative", "sort": "ascending"}}},
{"data": {"values": [{}]}, "mark": {"type": "rule", "color": "#888", "strokeWidth": 0.8},
 "encoding": {"x": {"datum": 0.415, "type": "quantitative"}, "y": {"datum": 0, "type": "quantitative"}, "y2": {"datum": 2}}},
{"data": {"values": [{}]}, "mark": {"type": "text", "angle": 270, "align": "center", "baseline": "middle", "fontSize": 7, "color": "#555"},
 "encoding": {"x": {"datum": -0.117, "type": "quantitative"}, "y": {"datum": 1, "type": "quantitative"}, "text": {"value": "bits"}}},
{"data": {"values": [{}]}, "mark": {"type": "text", "align": "left", "baseline": "alphabetic", "fontSize": 17, "color": "#333"},
 "encoding": {"x": {"datum": 0.628, "type": "quantitative"}, "y": {"datum": 2.452, "type": "quantitative"}, "text": {"value": "B box at"}}},
{"data": {"values": [{}]}, "mark": {"type": "text", "align": "left", "baseline": "alphabetic", "fontSize": 17, "fontStyle": "italic", "color": "#333"},
 "encoding": {"x": {"datum": 4.404, "type": "quantitative"}, "y": {"datum": 2.452, "type": "quantitative"}, "text": {"value": "Drosophila"}}},
{"data": {"values": [{}]}, "mark": {"type": "text", "align": "left", "baseline": "alphabetic", "fontSize": 17, "color": "#333"},
 "encoding": {"x": {"datum": 8.872, "type": "quantitative"}, "y": {"datum": 2.452, "type": "quantitative"}, "text": {"value": "tRNA genes"}}},
{"data": {"values": [{}]}, "mark": {"type": "text", "align": "left", "baseline": "alphabetic", "fontSize": 24, "color": "#111"},
 "encoding": {"x": {"datum": -4.479, "type": "quantitative"}, "y": {"datum": 1.91, "type": "quantitative"}, "text": {"value": "d"}}}
]},
{"layer": [
{"data": {"name": "logo"}, "transform": [{"filter": "datum.box === 'A'"}], "mark": {"type": "bar", "width": 16, "fillOpacity": 0.62},
 "encoding": {
  "x": {"field": "pos", "type": "quantitative", "scale": {"domain": [0.415, 21.425], "nice": false, "zero": false},
   "axis": {"orient": "bottom", "offset": 0, "values": [1,2,3,4,5,6,7,8,9,10,11,12,13,14,15,16,17,18,19,20,21], "tickCount": 50, "labelExpr": "'' + datum.value", "labelOverlap": false, "labelAngle": 90, "ticks": false, "domain": false, "labelFontSize": 7, "labelColor": "#777", "labelPadding": 2, "title": null}},
  "y": {"field": "bits", "type": "quantitative", "stack": "zero", "scale": {"domain": [0, 5.277], "nice": false, "zero": false},
   "axis": {"orient": "left", "values": [0, 1, 2], "domain": false, "tickSize": 3, "tickColor": "#888", "labelFontSize": 7, "labelColor": "#555", "labelPadding": 1, "title": null}},
  "color": {"field": "nt", "type": "nominal"},
  "order": {"field": "bits", "type": "quantitative", "sort": "ascending"}}},
{"data": {"values": [{}]}, "mark": {"type": "rule", "color": "#888", "strokeWidth": 0.8},
 "encoding": {"x": {"datum": 0.415, "type": "quantitative"}, "y": {"datum": 0, "type": "quantitative"}, "y2": {"datum": 2}}},
{"data": {"values": [{}]}, "mark": {"type": "text", "angle": 270, "align": "center", "baseline": "middle", "fontSize": 7, "color": "#555"},
 "encoding": {"x": {"datum": -0.117, "type": "quantitative"}, "y": {"datum": 1, "type": "quantitative"}, "text": {"value": "bits"}}},
{"data": {"values": [{}]}, "mark": {"type": "text", "align": "left", "baseline": "alphabetic", "fontSize": 17, "color": "#333"},
 "encoding": {"x": {"datum": 0.787, "type": "quantitative"}, "y": {"datum": 2.305, "type": "quantitative"}, "text": {"value": "A box at"}}},
{"data": {"values": [{}]}, "mark": {"type": "text", "align": "left", "baseline": "alphabetic", "fontSize": 17, "fontStyle": "italic", "color": "#333"},
 "encoding": {"x": {"datum": 4.564, "type": "quantitative"}, "y": {"datum": 2.305, "type": "quantitative"}, "text": {"value": "Drosophila"}}},
{"data": {"values": [{}]}, "mark": {"type": "text", "align": "left", "baseline": "alphabetic", "fontSize": 17, "color": "#333"},
 "encoding": {"x": {"datum": 9.03, "type": "quantitative"}, "y": {"datum": 2.305, "type": "quantitative"}, "text": {"value": "tRNA genes"}}}
]}
]
},
{
"width": 219, "height": 215,
"layer": [
{"data": {"values": [{}]}, "mark": {"type": "rule", "color": "#666", "strokeWidth": 1},
 "encoding": {"x": {"datum": -106.7, "type": "quantitative"}, "y": {"datum": 0, "type": "quantitative"}, "y2": {"datum": 0.0121}}},
{"data": {"name": "e_curves"}, "mark": {"type": "line", "strokeWidth": 1.8, "interpolate": "monotone"},
 "encoding": {
  "x": {"field": "pos", "type": "quantitative", "scale": {"domain": [-106.7, 99.7], "nice": false, "zero": false},
   "axis": {"values": [-90, -60, -30, 0, 30, 60, 90], "tickCount": 50, "labelExpr": "'' + datum.value", "labelOverlap": false, "tickSize": -5, "tickColor": "#666", "domainColor": "#666", "labelFontSize": 10.5, "labelColor": "#333", "labelPadding": 12, "title": "Position of best site in sequence", "titleFontSize": 13.5, "titleFontWeight": "normal", "titleColor": "#222", "titlePadding": 4}},
  "y": {"field": "prob", "type": "quantitative", "scale": {"domain": [0, 0.01277], "nice": false, "zero": false},
   "axis": {"values": [0, 0.002, 0.004, 0.006, 0.008, 0.01, 0.012], "tickCount": 50, "labelExpr": "abs(datum.value*250 - round(datum.value*250)) < 0.01 ? slice(format(datum.value, '.3f'), 1) : ''", "labelOverlap": false, "domain": false, "tickSize": -4, "tickColor": "#666", "labelPadding": 8, "labelFontSize": 10.5, "labelColor": "#333", "title": "probability", "titleFontSize": 11, "titleFontWeight": "normal", "titleColor": "#333", "titlePadding": 6, "titleY": 97}},
  "color": {"field": "series", "type": "nominal", "scale": {"domain": ["B box; p = 1.3e-29", "A box; p = 1.4e-26"], "range": ["#111111", "#3a3ab0"]},
   "legend": {"orient": "none", "legendX": 17, "legendY": 8, "title": null, "symbolType": "square", "symbolSize": 30, "symbolStrokeWidth": 5, "labelFontSize": 10.5, "labelColor": "#222", "rowPadding": 2}}}},
{"data": {"values": [{}]}, "mark": {"type": "text", "align": "left", "baseline": "alphabetic", "fontSize": 24, "color": "#111"},
 "encoding": {"x": {"datum": -160.4, "type": "quantitative"}, "y": {"datum": 0.01253, "type": "quantitative"}, "text": {"value": "e"}}}
]
},
{
"width": 300, "height": 233,
"layer": [
{"data": {"values": [{}]}, "mark": {"type": "point", "filled": true, "shape": "circle", "size": 5027, "color": "#2b2b2b", "opacity": 1, "strokeWidth": 0},
 "encoding": {"x": {"datum": 213, "type": "quantitative", "scale": {"domain": [0, 300], "nice": false, "zero": false}, "axis": null},
  "y": {"datum": 114, "type": "quantitative", "scale": {"domain": [0, 233], "reverse": true, "nice": false, "zero": false}, "axis": null}}},
{"data": {"values": [{}]}, "mark": {"type": "point", "filled": true, "shape": "circle", "size": 22698, "color": "#79a0a0", "opacity": 1, "strokeWidth": 0},
 "encoding": {"x": {"datum": 147, "type": "quantitative"}, "y": {"datum": 117, "type": "quantitative"}}},
{"data": {"values": [{}]}, "mark": {"type": "point", "filled": true, "shape": "circle", "size": 5027, "color": "#2e5a59", "opacity": 1, "strokeWidth": 0, "blend": "darken"},
 "encoding": {"x": {"datum": 213, "type": "quantitative"}, "y": {"datum": 114, "type": "quantitative"}}},
{"data": {"values": [{}]}, "mark": {"type": "text", "align": "left", "baseline": "alphabetic", "fontSize": 24, "color": "#111"},
 "encoding": {"x": {"datum": -33, "type": "quantitative"}, "y": {"datum": 4, "type": "quantitative"}, "text": {"value": "f"}}},
{"data": {"values": [{}]}, "mark": {"type": "text", "align": "left", "baseline": "alphabetic", "fontSize": 21, "color": "#111"},
 "encoding": {"x": {"datum": 5, "type": "quantitative"}, "y": {"datum": 37, "type": "quantitative"}, "text": {"value": "dTFIIIC220"}}},
{"data": {"values": [{}]}, "mark": {"type": "text", "align": "left", "baseline": "alphabetic", "fontSize": 12, "color": "#222"},
 "encoding": {"x": {"datum": 5, "type": "quantitative"}, "y": {"datum": 52, "type": "quantitative"}, "text": {"value": "(CG7099)"}}},
{"data": {"values": [{"label": "2,396", "cx": 117}, {"label": "171", "cx": 201}]}, "mark": {"type": "text", "align": "center", "baseline": "middle", "fontSize": 24, "fontWeight": "bold", "color": "white"},
 "encoding": {"x": {"field": "cx", "type": "quantitative"}, "y": {"datum": 115, "type": "quantitative"}, "text": {"field": "label"}}},
{"data": {"values": [{}]}, "mark": {"type": "text", "align": "center", "baseline": "middle", "fontSize": 24, "fontWeight": "bold", "color": "#222"},
 "encoding": {"x": {"datum": 270, "type": "quantitative"}, "y": {"datum": 115, "type": "quantitative"}, "text": {"value": "121"}}},
{"data": {"values": [{}]}, "mark": {"type": "text", "align": "right", "baseline": "alphabetic", "fontSize": 21, "color": "#111"},
 "encoding": {"x": {"datum": 314, "type": "quantitative"}, "y": {"datum": 209, "type": "quantitative"}, "text": {"value": "tRNA genes"}}},
{"data": {"values": [{}]}, "mark": {"type": "text", "align": "right", "baseline": "alphabetic", "fontSize": 13, "color": "#222"},
 "encoding": {"x": {"datum": 316, "type": "quantitative"}, "y": {"datum": 229, "type": "quantitative"}, "text": {"value": "(flybase annotation)"}}}
]
}
]
}
